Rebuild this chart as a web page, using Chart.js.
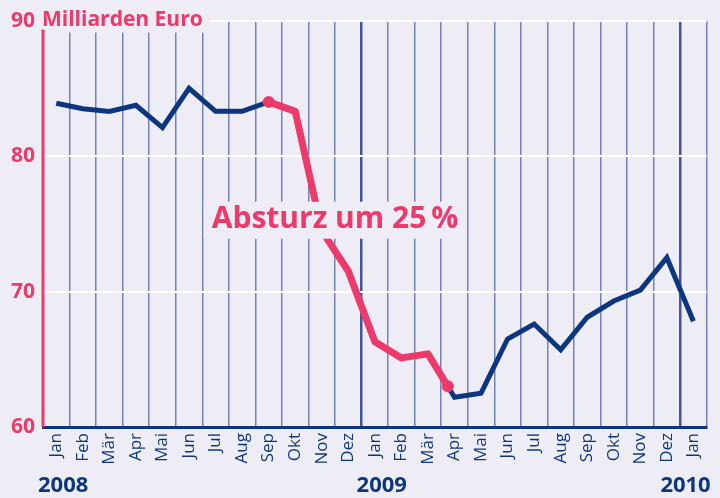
<!DOCTYPE html>
<html>
<head>
<meta charset="utf-8">
<script src="https://cdn.jsdelivr.net/npm/chart.js@4"></script>
<style>
  html, body { margin: 0; padding: 0; background: #eeedf6; }
  #wrap { width: 720px; height: 498px; }
</style>
</head>
<body>
<div id="wrap"><canvas id="exportChart" width="720" height="498"></canvas></div>
<script>
const months = ["Jan", "Feb", "Mär", "Apr", "Mai", "Jun", "Jul", "Aug", "Sep", "Okt", "Nov", "Dez",
    "Jan", "Feb", "Mär", "Apr", "Mai", "Jun", "Jul", "Aug", "Sep", "Okt", "Nov", "Dez", "Jan"];
const exportValues = [83.9, 83.5, 83.3, 83.75, 82.1, 85.0, 83.3, 83.3, 84.0, 83.3, 74.5, 71.5,
    66.3, 65.1, 65.4, 62.2, 62.5, 66.5, 67.6, 65.7, 68.1, 69.3, 70.1, 72.5, 67.8];
// the crash segment, Sep 2008 to just before Apr 2009 (month index)
const crashMonths = [8, 9, 10, 11, 12, 13, 14, 14.75];
const crashValues = [84.0, 83.3, 74.5, 71.5, 66.3, 65.1, 65.4, 63.0];
const yearLabels = ["2008", "2009", "2010"];
const yearStarts = [0, 12, 24];
const yTicks = [60, 70, 80, 90];

const BG = "#eeedf6";
const PINK = "#ee3a6b";
const NAVY = "#0c3780";
const GRID = "#7682b6";
const FONT = "'Open Sans', 'Noto Sans', sans-serif";
const NARROW = "'Liberation Sans Narrow', 'Open Sans', sans-serif";

const decorations = {
    id: "decorations",
    beforeDraw(chart) {
        const ctx = chart.ctx;
        ctx.save();
        ctx.fillStyle = BG;
        ctx.fillRect(0, 0, chart.width, chart.height);
        ctx.restore();
    },
    afterDatasetsDraw(chart) {
        const ctx = chart.ctx;
        const x = chart.scales.x, y = chart.scales.y;
        ctx.save();
        // annotation label with a background box
        ctx.font = "bold 30px " + FONT;
        const label = "Absturz um 25\u2009%";
        const w = ctx.measureText(label).width;
        const cx = (x.getPixelForValue(6) + x.getPixelForValue(15)) / 2;
        const cy = y.getPixelForValue(75.3);
        ctx.fillStyle = BG;
        ctx.fillRect(cx - w / 2 - 8, cy - 18, w + 16, 37);
        ctx.fillStyle = PINK;
        ctx.textAlign = "center";
        ctx.textBaseline = "middle";
        ctx.fillText(label, cx, cy);
        ctx.restore();
    },
    afterDraw(chart) {
        const ctx = chart.ctx;
        const area = chart.chartArea;
        const x = chart.scales.x, y = chart.scales.y;
        ctx.save();
        // title over the top gridline
        const ty = y.getPixelForValue(90);
        ctx.fillStyle = BG;
        ctx.fillRect(area.left - 3, ty - 14, 170, 26);
        ctx.fillStyle = PINK;
        ctx.font = "bold 21px " + FONT;
        ctx.textBaseline = "middle";
        ctx.fillText("Milliarden Euro", area.left - 1, ty - 1);
        // pink value axis
        ctx.strokeStyle = PINK;
        ctx.lineWidth = 3;
        ctx.beginPath();
        ctx.moveTo(area.left, ty + 9);
        ctx.lineTo(area.left, area.bottom);
        ctx.stroke();
        // year labels
        ctx.fillStyle = NAVY;
        ctx.font = "bold 22px " + NARROW;
        ctx.textBaseline = "alphabetic";
        const half = (x.getPixelForValue(1) - x.getPixelForValue(0)) / 2;
        yearLabels.forEach((yr, i) => {
            const bx = x.getPixelForValue(yearStarts[i]) - half;
            if (i === yearLabels.length - 1) {
                ctx.textAlign = "right";
                ctx.fillText(yr, area.right + 4, 492);
            } else {
                ctx.textAlign = "left";
                ctx.fillText(yr, bx - 5, 492);
            }
        });
        ctx.restore();
    }
};

new Chart(document.getElementById("exportChart"), {
    type: "line",
    data: {
        labels: months,
        datasets: [
            {
                label: "Absturz",
                data: crashMonths.map((m, i) => ({ x: m, y: crashValues[i] })),
                xAxisID: "xl",
                borderColor: PINK,
                backgroundColor: PINK,
                borderWidth: 7,
                borderJoinStyle: "round",
                borderCapStyle: "round",
                pointRadius: ctx => (ctx.dataIndex === 0 || ctx.dataIndex === crashValues.length - 1 ? 6 : 0),
                pointBorderWidth: 0,
                tension: 0,
                order: 0
            },
            {
                label: "Exporte",
                data: exportValues.map((v, i) => ({ x: i, y: v })),
                xAxisID: "xl",
                borderColor: NAVY,
                borderWidth: 5,
                borderJoinStyle: "miter",
                pointRadius: 0,
                tension: 0,
                order: 1
            }
        ]
    },
    options: {
        responsive: false,
        animation: false,
        layout: { padding: { top: 19, right: 9, left: 0, bottom: 0 } },
        plugins: { legend: { display: false }, tooltip: { enabled: false } },
        scales: {
            x: {
                type: "category",
                labels: months,
                offset: true,
                grid: {
                    offset: true,
                    drawTicks: false,
                    color: ctx => (ctx.index === 12 || ctx.index === 24 ? "#45549a" : GRID),
                    lineWidth: ctx => (ctx.index === 12 || ctx.index === 24 ? 2.5 : 1.5)
                },
                border: { color: NAVY, width: 3 },
                ticks: {
                    color: NAVY,
                    font: { family: FONT, size: 17 },
                    minRotation: 90,
                    maxRotation: 90,
                    autoSkip: false,
                    padding: 6
                },
                afterFit: s => { s.height = 71; }
            },
            xl: {
                type: "linear",
                display: false,
                min: -0.5,
                max: 24.5
            },
            y: {
                min: yTicks[0],
                max: yTicks[yTicks.length - 1],
                afterBuildTicks: s => { s.ticks = yTicks.map(v => ({ value: v })); },
                grid: {
                    drawTicks: false,
                    color: ctx => (ctx.tick && ctx.tick.value === 60 ? "rgba(0,0,0,0)" : "#ffffff"),
                    lineWidth: 2
                },
                border: { display: false },
                ticks: {
                    color: PINK,
                    font: { family: FONT, size: 21, weight: "bold" },
                    padding: 8
                },
                afterFit: s => { s.width = 43; }
            }
        }
    },
    plugins: [decorations]
});
</script>
</body>
</html>
